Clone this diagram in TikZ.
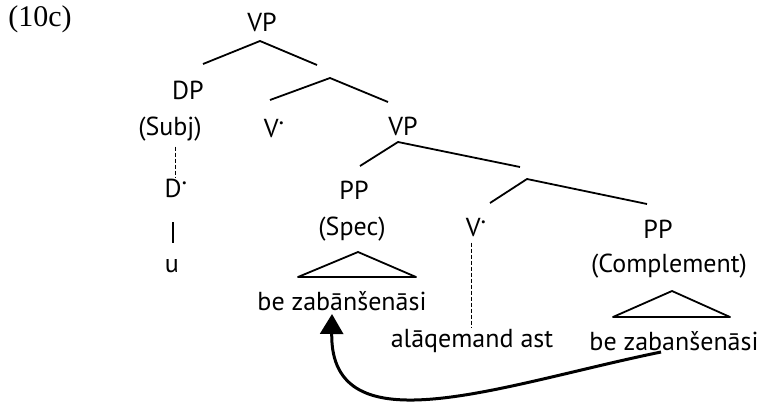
\documentclass[tikz,border=0pt]{standalone}
\usepackage{fontspec}
\setmainfont{PT Sans}
\newfontfamily\exfont{Liberation Serif}
\usetikzlibrary{arrows.meta}

\newcommand{\barlevel}[1]{#1\raisebox{0.5em}{.}}

\begin{document}
\begin{tikzpicture}[
  x=0.5pt, y=-0.5pt,
  every node/.style={font=\fontsize{13}{16}\selectfont, inner sep=0pt},
  branch/.style={line width=0.9pt},
  trace/.style={line width=0.5pt, dash pattern=on 2pt off 1pt},
  roof/.style={line width=0.9pt, line join=round},
  >=Stealth
]
  \useasboundingbox (0,0) rectangle (759,408);

  % --- Labels of the tree ---
  \node[font=\exfont\fontsize{15}{18}\selectfont] (ex) at (40,19) {(10c)};
  \node (vp1)  at (262,22)  {VP};
  \node (dp)   at (188,90)  {DP};
  \node (subj) at (170,129) {(Subj)};
  \node (v1)   at (274,129) {\barlevel{V}};
  \node (vp2)  at (403,126) {VP};
  \node (d1)   at (176,188) {\barlevel{D}};
  \node (pp1)  at (354,190) {PP};
  \node (u)    at (172,266) {u};
  \node (spec) at (352,229) {(Spec)};
  \node (v2)   at (476,228) {\barlevel{V}};
  \node (pp2)  at (658,229) {PP};
  \node (comp) at (669,266) {(Complement)};
  \node (bz1)  at (342,301) {be zabānšenāsi};
  \node (alq)  at (472,341) {alāqemand ast};
  \node (bz2)  at (674,341) {be zabanšenāsi};

  % --- Branch points ---
  \coordinate (top1) at (260,41);
  \coordinate (l1)   at (203,64);
  \coordinate (r1)   at (317,65);
  \coordinate (top2) at (330,78);
  \coordinate (l2)   at (270,100);
  \coordinate (r2)   at (388,102);
  \coordinate (top3) at (398,142);
  \coordinate (l3)   at (360,166);
  \coordinate (r3)   at (520,167);
  \coordinate (top4) at (527,179);
  \coordinate (l4)   at (490,203);
  \coordinate (r4)   at (647,204);

  \draw[branch] (l1) -- (top1) -- (r1);
  \draw[branch] (l2) -- (top2) -- (r2);
  \draw[branch] (l3) -- (top3) -- (r3);
  \draw[branch] (l4) -- (top4) -- (r4);

  % --- Vertical links ---
  \draw[trace] (subj.south) ++(5,5) coordinate (s0) -- (s0 |- d1.north) ++(0,-8);
  \coordinate (dd0) at (173,222);
  \coordinate (dd1) at (173,243);
  \draw[line width=0.6pt] (dd0) -- (dd1);
  \draw[trace] (v2.south) ++(-5,5) coordinate (w0) -- ++(0,85);

  % --- Roofs ---
  \coordinate (ra) at (358,252);
  \coordinate (rb) at (298,277);
  \coordinate (rc) at (416,277);
  \draw[roof] (rb) -- (ra) -- (rc) -- cycle;
  \coordinate (rd) at (672,291);
  \coordinate (re) at (613,317);
  \coordinate (rf) at (730,317);
  \draw[roof] (re) -- (rd) -- (rf) -- cycle;

  % --- Movement arrow ---
  \coordinate (tail) at (661,352);
  \coordinate (tip)  at (332,314);
  \draw[-{Triangle[length=10pt,width=11.5pt]}, line width=1.5pt]
    (tail) .. controls (500,385) and (330,450) .. (tip);
\end{tikzpicture}
\end{document}
